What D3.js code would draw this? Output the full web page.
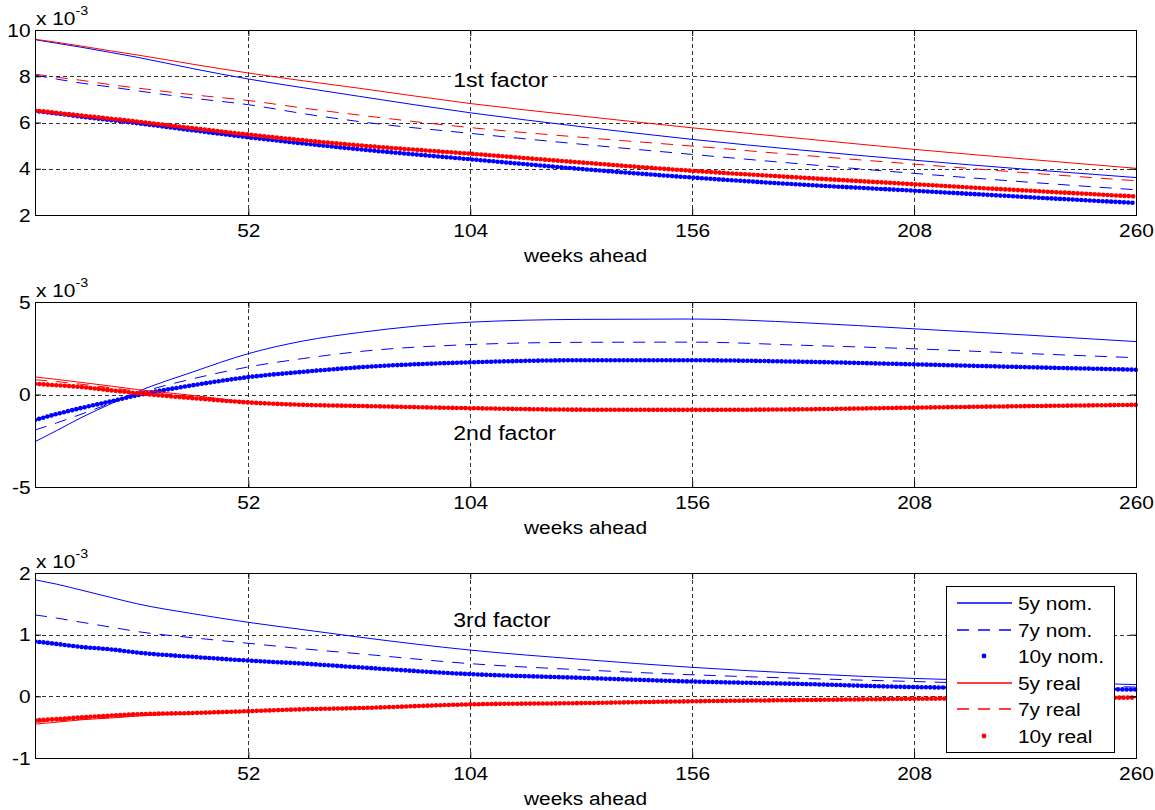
<!DOCTYPE html>
<meta charset="utf-8">
<script src="https://d3js.org/d3.v7.min.js"></script>
<style>
  body { margin: 0; background: #fff; }
  svg text { font-family: "Liberation Sans", Arial, sans-serif; fill: #000; }
</style>
<svg id="chart" width="1155" height="810"></svg>
<script>
  // weeks ahead (sampled) and axis ticks
  const weeks = [2, 7, 13, 20, 26, 39, 52, 65, 78, 104, 130, 156, 182, 208, 234, 260];
  const xTicks = [52, 104, 156, 208, 260];
  const seriesNames = ["5y nom.", "7y nom.", "10y nom.", "5y real", "7y real", "10y real"];

  // 1st factor loadings (x 1e-3)
  const f1Nom5   = [9.58, 9.43, 9.25, 9.02, 8.82, 8.33, 7.88, 7.50, 7.13, 6.42, 5.82, 5.27, 4.80, 4.37, 3.98, 3.62];
  const f1Nom7   = [8.05, 7.88, 7.70, 7.53, 7.37, 7.05, 6.77, 6.38, 6.04, 5.53, 5.06, 4.62, 4.20, 3.80, 3.43, 3.09];
  const f1Nom10  = [6.50, 6.39, 6.25, 6.10, 5.97, 5.66, 5.36, 5.09, 4.84, 4.41, 3.99, 3.62, 3.31, 3.05, 2.78, 2.52];
  const f1Real5  = [9.60, 9.47, 9.30, 9.09, 8.92, 8.52, 8.14, 7.80, 7.48, 6.82, 6.28, 5.77, 5.30, 4.84, 4.42, 4.02];
  const f1Real7  = [8.09, 7.96, 7.82, 7.63, 7.49, 7.20, 6.95, 6.62, 6.32, 5.78, 5.36, 4.98, 4.58, 4.20, 3.83, 3.48];
  const f1Real10 = [6.52, 6.42, 6.30, 6.16, 6.04, 5.76, 5.48, 5.23, 5.01, 4.65, 4.27, 3.91, 3.61, 3.33, 3.06, 2.80];

  // 2nd factor loadings (x 1e-3)
  const f2Nom5   = [-2.55, -1.96, -1.23, -0.48, 0.15, 1.22, 2.21, 2.90, 3.35, 3.91, 4.06, 4.08, 3.88, 3.55, 3.22, 2.86];
  const f2Nom7   = [-1.92, -1.54, -1.05, -0.45, 0.05, 0.85, 1.49, 1.95, 2.32, 2.70, 2.82, 2.83, 2.66, 2.47, 2.22, 1.99];
  const f2Nom10  = [-1.38, -1.06, -0.72, -0.36, -0.04, 0.50, 0.94, 1.23, 1.47, 1.74, 1.85, 1.85, 1.77, 1.63, 1.48, 1.34];
  const f2Real5  = [0.95, 0.82, 0.65, 0.45, 0.27, -0.05, -0.40, -0.57, -0.64, -0.75, -0.83, -0.84, -0.81, -0.72, -0.64, -0.57];
  const f2Real7  = [0.80, 0.70, 0.55, 0.36, 0.18, -0.12, -0.42, -0.56, -0.63, -0.74, -0.82, -0.83, -0.80, -0.71, -0.63, -0.56];
  const f2Real10 = [0.58, 0.50, 0.40, 0.22, 0.07, -0.20, -0.43, -0.56, -0.62, -0.74, -0.82, -0.83, -0.80, -0.71, -0.63, -0.56];

  // 3rd factor loadings (x 1e-3)
  const f3Nom5   = [1.89, 1.82, 1.72, 1.60, 1.50, 1.34, 1.20, 1.08, 0.96, 0.75, 0.60, 0.47, 0.37, 0.29, 0.24, 0.19];
  const f3Nom7   = [1.32, 1.27, 1.20, 1.12, 1.05, 0.95, 0.86, 0.77, 0.69, 0.53, 0.43, 0.35, 0.29, 0.24, 0.19, 0.15];
  const f3Nom10  = [0.89, 0.85, 0.80, 0.76, 0.71, 0.64, 0.58, 0.53, 0.47, 0.36, 0.30, 0.24, 0.20, 0.15, 0.13, 0.11];
  const f3Real5  = [-0.45, -0.42, -0.38, -0.35, -0.32, -0.28, -0.25, -0.21, -0.19, -0.14, -0.11, -0.08, -0.06, -0.04, -0.03, -0.02];
  const f3Real7  = [-0.42, -0.40, -0.37, -0.34, -0.31, -0.28, -0.25, -0.21, -0.19, -0.14, -0.11, -0.08, -0.06, -0.04, -0.03, -0.02];
  const f3Real10 = [-0.39, -0.37, -0.34, -0.31, -0.29, -0.27, -0.24, -0.21, -0.19, -0.13, -0.11, -0.08, -0.06, -0.04, -0.03, -0.02];

  const yTicks1 = [2, 4, 6, 8, 10];
  const yTicks2 = [-5, 0, 5];
  const yTicks3 = [-1, 0, 1, 2];

  // layout
  const left = 35, right = 1136, plotH = 185;
  const sx = 1.1; // glyphs in the original are slightly stretched
  const styles = [
    {color: "#0000ff", type: "solid"},
    {color: "#0000ff", type: "dash"},
    {color: "#0000ff", type: "dot"},
    {color: "#ff0000", type: "solid"},
    {color: "#ff0000", type: "dash"},
    {color: "#ff0000", type: "dot"}
  ];

  const panels = [
    {top: 30, ticks: yTicks1, title: "1st factor", titleY: 7.54, series: [f1Nom5, f1Nom7, f1Nom10, f1Real5, f1Real7, f1Real10]},
    {top: 302, ticks: yTicks2, title: "2nd factor", titleY: -2.46, series: [f2Nom5, f2Nom7, f2Nom10, f2Real5, f2Real7, f2Real10]},
    {top: 573, ticks: yTicks3, title: "3rd factor", titleY: 1.13, series: [f3Nom5, f3Nom7, f3Nom10, f3Real5, f3Real7, f3Real10]}
  ];

  const svg = d3.select("#chart");
  const x = d3.scaleLinear().domain([2, 260]).range([left, right]);
  const fmt = d => String(d); // plain hyphen minus like the original

  const applyStyle = (sel, st) => {
    sel.attr("fill", "none").attr("stroke", st.color);
    if (st.type === "solid") sel.attr("stroke-width", 1);
    if (st.type === "dash") sel.attr("stroke-width", 1).attr("stroke-dasharray", "12,9");
    if (st.type === "dot") sel.attr("stroke-width", 4.6).attr("stroke-linecap", "round").attr("stroke-dasharray", "0,4.27");
  };

  // text helper with horizontal stretch
  const addText = (parent, px, py, str, size, anchor) => {
    const g = parent.append("g").attr("transform", `translate(${px},${py}) scale(${sx},1)`);
    const t = g.append("text").attr("font-size", size).attr("text-anchor", anchor || "start").text(str);
    return {g, t};
  };

  panels.forEach((p, i) => {
    const y = d3.scaleLinear().domain(d3.extent(p.ticks)).range([p.top + plotH, p.top]);
    const bottom = p.top + plotH;
    const g = svg.append("g");

    // dashed grid
    g.append("g").selectAll("line").data(xTicks.filter(t => t < 260)).join("line")
      .attr("x1", d => Math.round(x(d)) + 0.5).attr("x2", d => Math.round(x(d)) + 0.5)
      .attr("y1", p.top).attr("y2", bottom)
      .attr("stroke", "#000").attr("stroke-width", 0.8).attr("stroke-dasharray", "4,3");
    g.append("g").selectAll("line").data(p.ticks.slice(1, -1)).join("line")
      .attr("x1", left).attr("x2", right)
      .attr("y1", d => Math.round(y(d)) + 0.5).attr("y2", d => Math.round(y(d)) + 0.5)
      .attr("stroke", "#000").attr("stroke-width", 0.8).attr("stroke-dasharray", "4,3");

    // title text with white backing
    const tt = addText(g, x(100), y(p.titleY), p.title, 21);
    const bb = tt.t.node().getBBox();
    tt.g.insert("rect", "text").attr("x", bb.x - 2).attr("y", bb.y + 2).attr("width", bb.width + 4).attr("height", bb.height - 4).attr("fill", "#fff");

    // data lines
    const clipId = "clip" + i;
    svg.append("clipPath").attr("id", clipId).append("rect")
      .attr("x", left).attr("y", p.top - 3).attr("width", right - left + 3).attr("height", plotH + 6);
    const line = d3.line().x((d, j) => x(weeks[j])).y(d => y(d)).curve(d3.curveMonotoneX);
    const lg = g.append("g").attr("clip-path", `url(#${clipId})`);
    p.series.forEach((s, k) => {
      lg.append("path").datum(s).attr("d", line).call(applyStyle, styles[k]);
    });

    // axes with inward ticks
    const axB = g.append("g").attr("transform", `translate(0,${bottom})`)
      .call(d3.axisBottom(x).tickValues(xTicks).tickSize(-6).tickPadding(9).tickFormat(fmt));
    const axT = g.append("g").attr("transform", `translate(0,${p.top})`)
      .call(d3.axisTop(x).tickValues(xTicks).tickSize(-6).tickFormat(""));
    const axL = g.append("g").attr("transform", `translate(${left},0)`)
      .call(d3.axisLeft(y).tickValues(p.ticks).tickSize(-6).tickPadding(4).tickFormat(fmt));
    const axR = g.append("g").attr("transform", `translate(${right},0)`)
      .call(d3.axisRight(y).tickValues(p.ticks).tickSize(-6).tickFormat(""));
    [axB, axT, axL, axR].forEach(a => {
      a.attr("font-size", 19);
      a.select(".domain").remove();
      a.selectAll("line").attr("stroke", "#000");
      a.selectAll("text").attr("transform", `scale(${sx},1)`);
    });

    // axes box
    g.append("rect").attr("x", left + 0.5).attr("y", p.top + 0.5)
      .attr("width", right - left).attr("height", plotH)
      .attr("fill", "none").attr("stroke", "#000").attr("stroke-width", 1);

    // exponent label
    const ex = addText(g, 36, p.top - 5, "x 10", 19);
    ex.t.append("tspan").attr("font-size", 13).attr("dy", -10).text("-3");

    // x-axis title
    addText(g, (left + right) / 2, bottom + 47, "weeks ahead", 19, "middle");

    // legend in last panel
    if (i === panels.length - 1) {
      const leg = svg.append("g");
      leg.append("rect").attr("x", 946.5).attr("y", 586.5).attr("width", 168).attr("height", 166)
        .attr("fill", "#fff").attr("stroke", "#000").attr("stroke-width", 1);
      seriesNames.forEach((name, k) => {
        const ry = Math.round(603 + k * 26.6);
        const st = styles[k];
        if (st.type === "dot") {
          leg.append("circle").attr("cx", 984).attr("cy", ry).attr("r", 2.4).attr("fill", st.color);
        } else {
          leg.append("line").attr("x1", 957).attr("x2", 1012).attr("y1", ry).attr("y2", ry)
            .call(applyStyle, st).attr("stroke-width", 1.3);
        }
        const lt = addText(leg, 1018, ry, name, 19);
        lt.t.attr("dy", "0.35em");
      });
    }
  });
</script>
